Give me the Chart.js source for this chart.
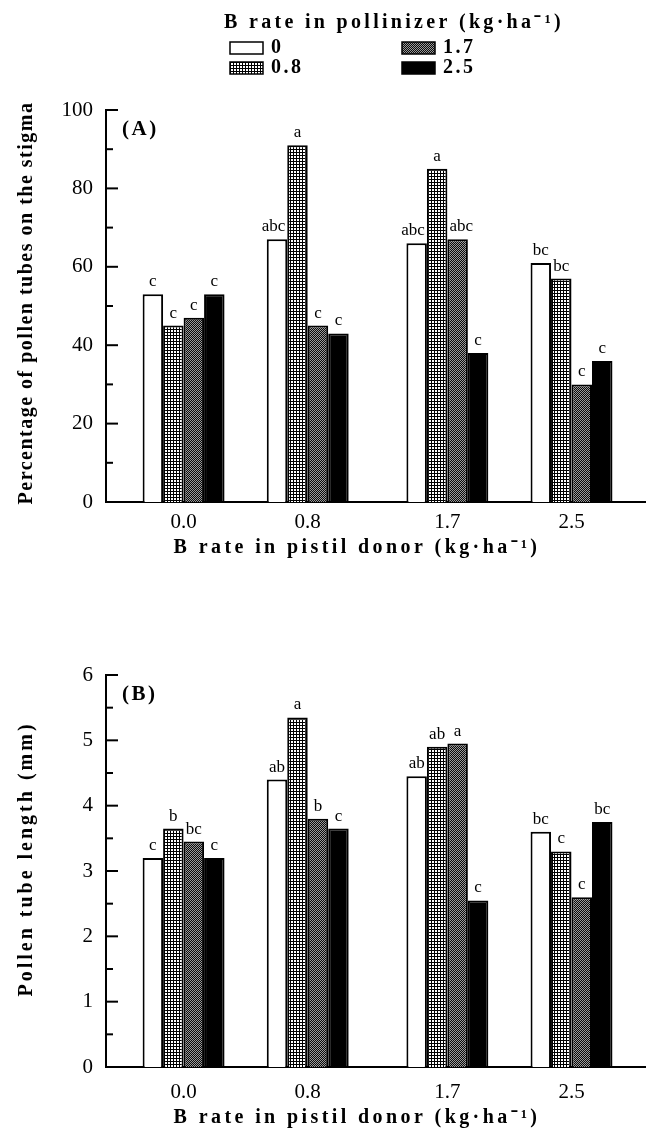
<!DOCTYPE html>
<html>
<head>
<meta charset="utf-8">
<script src="https://cdn.jsdelivr.net/npm/chart.js@4.4.1/dist/chart.umd.min.js"></script>
<style>
    body { margin: 0; background: #fff; }
    .panel { position: absolute; left: 0; width: 646px; }
</style>
</head>
<body>
<div class="panel" style="top:0;height:570px"><canvas id="chartStigma"></canvas></div>
<div class="panel" style="top:570px;height:565px"><canvas id="chartLength"></canvas></div>
<script>
// B rate in pistil donor (x axis)
const pistilRates = [0.0, 0.8, 1.7, 2.5];
// B rate in pollinizer (one series each)
const pollinizerRates = ['0', '0.8', '1.7', '2.5'];

// (A) percentage of pollen tubes on the stigma
const stigma0 = [53, 67, 66, 61];
const stigma08 = [45, 91, 85, 57];
const stigma17 = [47, 45, 67, 30];
const stigma25 = [53, 43, 38, 36];
const stigmaLetters = [
    ['c', 'abc', 'abc', 'bc'],
    ['c', 'a', 'a', 'bc'],
    ['c', 'c', 'abc', 'c'],
    ['c', 'c', 'c', 'c']
];

// (B) pollen tube length (mm)
const length0 = [3.2, 4.4, 4.45, 3.6];
const length08 = [3.65, 5.35, 4.9, 3.3];
const length17 = [3.45, 3.8, 4.95, 2.6];
const length25 = [3.2, 3.65, 2.55, 3.75];
const lengthLetters = [
    ['c', 'ab', 'ab', 'bc'],
    ['b', 'a', 'ab', 'c'],
    ['bc', 'b', 'a', 'c'],
    ['c', 'c', 'c', 'bc']
];

const serif = '"Liberation Serif", "Times New Roman", serif';

function makePattern(kind) {
    const c = document.createElement('canvas');
    const g = c.getContext('2d');
    if (kind === 'grid') {
        c.width = 3; c.height = 3;
        g.fillStyle = '#fff'; g.fillRect(0, 0, 3, 3);
        g.fillStyle = '#000'; g.fillRect(0, 2, 3, 1); g.fillRect(2, 0, 1, 3);
    } else {
        c.width = 2; c.height = 2;
        g.fillStyle = '#0a0a0a'; g.fillRect(0, 0, 2, 2);
        g.fillStyle = '#9a9a9a'; g.fillRect(0, 0, 1, 1); g.fillRect(1, 1, 1, 1);
    }
    return g.createPattern(c, 'repeat');
}

const fills = ['#ffffff', makePattern('grid'), makePattern('checker'), '#000000'];

function toPoints(values) {
    return values.map((v, i) => ({ x: pistilRates[i], y: v }));
}

function makeDatasets(series) {
    return series.map((values, i) => ({
        label: pollinizerRates[i],
        data: toPoints(values),
        backgroundColor: fills[i],
        borderColor: '#000',
        borderWidth: 2,
        categoryPercentage: 0.66,
        barPercentage: 1.0
    }));
}

function spacedText(ctx, text, x, y, font, spacing, align) {
    ctx.save();
    ctx.font = font;
    ctx.letterSpacing = spacing + 'px';
    ctx.textAlign = align || 'center';
    ctx.textBaseline = 'middle';
    ctx.fillStyle = '#000';
    ctx.fillText(text, x, y);
    ctx.restore();
}

// tick marks pointing into the plot, major + minor
const innerTicks = {
    id: 'innerTicks',
    afterDraw(chart, args, opts) {
        const y = chart.scales.y;
        const ctx = chart.ctx;
        const left = chart.chartArea.left;
        const n = Math.round(y.max / opts.minor);
        ctx.save();
        ctx.strokeStyle = '#000';
        ctx.lineWidth = 2;
        for (let i = 1; i <= n; i++) {
            const py = y.getPixelForValue(i * opts.minor);
            ctx.beginPath();
            ctx.moveTo(left, py);
            ctx.lineTo(left + (i % 2 === 0 ? 12 : 7), py);
            ctx.stroke();
        }
        ctx.restore();
    }
};

// significance letters above every bar, pushed aside when a taller neighbour is in the way
const barLetters = {
    id: 'barLetters',
    afterDatasetsDraw(chart, args, opts) {
        const ctx = chart.ctx;
        const metas = chart.data.datasets.map((ds, i) => chart.getDatasetMeta(i));
        ctx.save();
        ctx.font = '17px ' + serif;
        ctx.fillStyle = '#000';
        ctx.textAlign = 'center';
        ctx.textBaseline = 'alphabetic';
        metas.forEach((meta, i) => {
            meta.data.forEach((bar, j) => {
                const text = opts.letters[i][j];
                const extra = ctx.measureText(text).width - bar.width;
                let x = bar.x;
                if (extra > 0) {
                    const next = metas[i + 1] && metas[i + 1].data[j];
                    const prev = metas[i - 1] && metas[i - 1].data[j];
                    if (next && next.y < bar.y) x -= extra / 2 + 2;
                    else if (prev && prev.y < bar.y) x += extra / 2 + 2;
                }
                ctx.fillText(text, x, bar.y - 8);
            });
        });
        ctx.restore();
    }
};

// panel tag, axis titles and (top panel only) the legend
const panelText = {
    id: 'panelText',
    afterDraw(chart, args, opts) {
        const ctx = chart.ctx;
        const area = chart.chartArea;
        const bold = 'bold 20px ' + serif;

        spacedText(ctx, opts.tag, area.left + 16, area.top + 20, 'bold 21px ' + serif, 2.5, 'left');
        spacedText(ctx, 'B rate in pistil donor (kg\u00b7ha\u207b\u00b9)', 357, area.bottom + opts.xTitleGap, bold, 3.4);

        ctx.save();
        ctx.translate(27, (area.top + area.bottom) / 2 + opts.yTitleShift);
        ctx.rotate(-Math.PI / 2);
        spacedText(ctx, opts.yTitle, 0, 0, bold, opts.yTitleSpacing);
        ctx.restore();

        if (!opts.legend) return;
        spacedText(ctx, 'B rate in pollinizer (kg\u00b7ha\u207b\u00b9)', 394, 23, bold, 3.3);
        chart.data.datasets.forEach((ds, i) => {
            const x = i < 2 ? 230 : 402;
            const y = i % 2 === 0 ? 48 : 68;
            ctx.save();
            ctx.fillStyle = ds.backgroundColor;
            ctx.fillRect(x, y - 6, 33, 12);
            ctx.strokeStyle = '#000';
            ctx.lineWidth = 1.5;
            ctx.strokeRect(x, y - 6, 33, 12);
            ctx.restore();
            spacedText(ctx, ds.label, x + 41, y, bold, 2.5, 'left');
        });
    }
};

function makeChart(canvasId, series, opts) {
    return new Chart(document.getElementById(canvasId), {
        type: 'bar',
        data: {
            datasets: makeDatasets(series)
        },
        options: {
            responsive: true,
            maintainAspectRatio: false,
            animation: false,
            layout: {
                padding: { top: opts.top, left: 0, right: 0, bottom: 0 }
            },
            plugins: {
                legend: { display: false },
                tooltip: { enabled: false },
                barLetters: { letters: opts.letters },
                innerTicks: { minor: opts.minor },
                panelText: {
                    tag: opts.tag,
                    yTitle: opts.yTitle,
                    yTitleSpacing: opts.yTitleSpacing,
                    yTitleShift: opts.yTitleShift,
                    xTitleGap: opts.xTitleGap,
                    legend: opts.legend
                }
            },
            scales: {
                x: {
                    type: 'linear',
                    min: -0.5,
                    max: 2.98,
                    offset: false,
                    afterBuildTicks: (scale) => {
                        scale.ticks = pistilRates.map(v => ({ value: v }));
                    },
                    afterFit: (scale) => { scale.height = 68; },
                    ticks: {
                        padding: opts.xTickPadding,
                        color: '#000',
                        font: { family: serif, size: 21 },
                        callback: (value) => Number(value).toFixed(1)
                    },
                    grid: { display: false, drawTicks: false },
                    border: { display: true, color: '#000', width: 2 }
                },
                y: {
                    min: 0,
                    max: opts.max,
                    afterFit: (scale) => { scale.width = 106; },
                    ticks: {
                        stepSize: opts.minor * 2,
                        padding: 13,
                        color: '#000',
                        font: { family: serif, size: 21 }
                    },
                    grid: { display: false, drawTicks: false },
                    border: { display: true, color: '#000', width: 2 }
                }
            }
        },
        plugins: [innerTicks, barLetters, panelText]
    });
}

makeChart('chartStigma', [stigma0, stigma08, stigma17, stigma25], {
    top: 110,
    max: 100,
    minor: 10,
    letters: stigmaLetters,
    tag: '(A)',
    yTitle: 'Percentage of pollen tubes on the stigma',
    yTitleSpacing: 1.5,
    yTitleShift: -3,
    xTitleGap: 46,
    xTickPadding: 8,
    legend: true
});

makeChart('chartLength', [length0, length08, length17, length25], {
    top: 105,
    max: 6,
    minor: 0.5,
    letters: lengthLetters,
    tag: '(B)',
    yTitle: 'Pollen tube length (mm)',
    yTitleSpacing: 3,
    yTitleShift: -12,
    xTitleGap: 51,
    xTickPadding: 13,
    legend: false
});
</script>
</body>
</html>
